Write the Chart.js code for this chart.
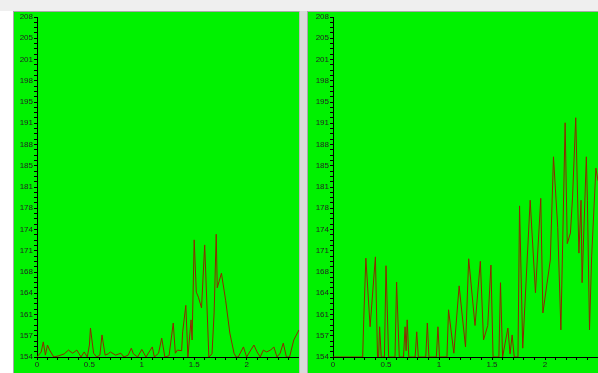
<!DOCTYPE html>
<html>
<head>
<meta charset="utf-8">
<script src="https://cdn.jsdelivr.net/npm/chart.js@4.4.1/dist/chart.umd.min.js"></script>
<style>
    body {margin: 0; width: 598px; height: 373px; background: #fff; overflow: hidden; position: relative;}
    #topbar {position: absolute; left: 0; top: 0; width: 598px; height: 11px; background: #efefef;}
    .panel {position: absolute; top: 11px; height: 361px; background: #00f200; border-top: 1px solid #a8a8a8; border-left: 1px solid #a8a8a8;}
    #leftPanel {left: 13px; width: 286px;}
    #rightPanel {left: 307px; width: 291px;}
    #gap {position: absolute; left: 299px; top: 11px; width: 8px; height: 362px; background: #dadada; border-left: 1px solid #bcbcbc;}
    canvas {display: block;}
</style>
</head>
<body>
<div id="topbar"></div>
<div id="leftPanel" class="panel"><canvas id="leftChart" width="286" height="361"></canvas></div>
<div id="gap"></div>
<div id="rightPanel" class="panel"><canvas id="rightChart" width="291" height="361"></canvas></div>
<script>
/*---------------------------------------- data ---------------------------------------------*/
var yMin = 154, yMax = 208;
var yTickLabels = ['154', '157', '161', '164', '168', '171', '174', '178', '181', '185', '188', '191', '195', '198', '201', '205', '208'];
var xMin = 0, xMax = 2.5;
var xTickLabels = {'0': '0', '0.5': '0.5', '1': '1', '1.5': '1.5', '2': '2'};

// left panel
var leftX = [0, 0.04, 0.06, 0.08, 0.1, 0.12, 0.16, 0.21, 0.26, 0.3, 0.34, 0.38, 0.42, 0.45, 0.48, 0.5,
    0.51, 0.54, 0.57, 0.6, 0.62, 0.65, 0.68, 0.7, 0.75, 0.8, 0.83, 0.87, 0.9, 0.92, 0.96, 1.0,
    1.04, 1.1, 1.12, 1.16, 1.19, 1.22, 1.26, 1.3, 1.32, 1.34, 1.38, 1.39, 1.42, 1.44, 1.47, 1.48,
    1.5, 1.52, 1.54, 1.57, 1.6, 1.64, 1.67, 1.69, 1.71, 1.72, 1.76, 1.8, 1.84, 1.88, 1.9, 1.92,
    1.97, 2.0, 2.04, 2.07, 2.1, 2.13, 2.16, 2.19, 2.23, 2.26, 2.29, 2.32, 2.35, 2.38, 2.41, 2.45, 2.5];
var leftY = [154, 154.8, 156.4, 154.3, 155.9, 155.1, 154, 154.2, 154.5, 155.1, 154.6, 155.1, 154, 154.8, 154, 155.9,
    158.6, 154.6, 154, 154.3, 157.5, 154.3, 154.5, 154.8, 154.3, 154.6, 154, 154.3, 155.4, 154.5, 154, 155.2,
    154, 155.6, 154, 154.6, 157, 154, 154.2, 159.4, 154.6, 155.1, 155, 158, 162.2, 154, 159.9, 156.7,
    172.6, 164.3, 163.5, 161.8, 171.8, 154, 154.5, 161, 173.5, 165, 167.3, 163, 157.8, 154.6, 154, 154,
    155.6, 154, 155.1, 155.9, 154.8, 154, 155.1, 154.8, 155.1, 155.6, 154, 154.6, 156.2, 154, 154, 156.7, 158.3];

// right panel
var rightX = [0, 0.28, 0.29, 0.31, 0.35, 0.4, 0.42, 0.43, 0.44, 0.455, 0.485, 0.5, 0.525, 0.585, 0.6, 0.625,
    0.665, 0.68, 0.69, 0.7, 0.715, 0.775, 0.79, 0.805, 0.875, 0.89, 0.905, 0.975, 0.99, 1.005, 1.075, 1.09,
    1.14, 1.19, 1.25, 1.28, 1.34, 1.39, 1.42, 1.46, 1.49, 1.51, 1.565, 1.58, 1.6, 1.65, 1.67, 1.69, 1.71, 1.745,
    1.76, 1.79, 1.86, 1.91, 1.96, 1.98, 2.05, 2.08, 2.12, 2.15, 2.19, 2.21, 2.24, 2.26, 2.29, 2.32, 2.34,
    2.35, 2.39, 2.4, 2.42, 2.44, 2.48, 2.5];
var rightY = [154, 154, 160, 169.7, 158.8, 169.9, 154, 154, 158.8, 154, 154, 168.5, 154, 154, 165.9, 154,
    154, 158.8, 155, 159.9, 154, 154, 158, 154, 154, 159.4, 154, 154, 158.8, 154, 154, 161.5,
    154.6, 165.3, 155.6, 169.6, 159, 169.2, 156.7, 159, 168.6, 154, 154, 165.8, 154, 158.6, 154.5, 157.5, 154, 154,
    178, 155.4, 178.9, 164.2, 179.2, 161, 169.4, 185.8, 174.6, 158.3, 191.2, 172, 173.7, 179.4, 192, 170.5, 178.9,
    165.8, 185.8, 178.9, 158.3, 169.9, 184, 182];

/*---------------------------------------- helpers ---------------------------------------------*/
function toPoints(xs, ys) {
    var pts = [];
    for (var i = 0; i < xs.length; i++) {
        pts.push({x: xs[i], y: ys[i]});
    }
    return pts;
}

// major ticks carry the labels, 3 minor ticks between them
function yTicks() {
    var list = [];
    var step = (yMax - yMin) / (yTickLabels.length - 1);
    for (var i = 0; i < yTickLabels.length; i++) {
        list.push({value: yMin + i * step, label: yTickLabels[i]});
        if (i < yTickLabels.length - 1) {
            for (var k = 1; k < 4; k++) {
                list.push({value: yMin + i * step + k * step / 4, label: ''});
            }
        }
    }
    return list;
}

function xTicks() {
    var list = [];
    for (var i = 0; i <= 25; i++) {
        var v = i / 10;
        list.push({value: v, label: xTickLabels[String(v)] || ''});
    }
    return list;
}

var tickFont = {family: "'Liberation Sans', Arial, sans-serif", size: 8, lineHeight: 1};

function makeChart(id, xs, ys, axisWidth) {
    var ctx = document.getElementById(id).getContext('2d');
    return new Chart(ctx, {
        type: 'line',
        data: {
            datasets: [{
                data: toPoints(xs, ys),
                borderColor: '#8c2a00',
                borderWidth: 1,
                pointRadius: 0,
                fill: false,
                tension: 0
            }]
        },
        options: {
            responsive: false,
            animation: false,
            events: [],
            layout: {padding: {top: 5, left: 0, right: 0, bottom: 0}},
            plugins: {legend: {display: false}, tooltip: {enabled: false}},
            scales: {
                x: {
                    type: 'linear',
                    min: xMin,
                    max: xMax,
                    afterBuildTicks: function (s) { s.ticks = xTicks().map(function (t) { return {value: t.value}; }); },
                    afterFit: function (s) { s.height = 16; },
                    ticks: {
                        autoSkip: false,
                        maxRotation: 0,
                        padding: 1,
                        color: '#222',
                        font: tickFont,
                        callback: function (v) { return xTickLabels[String(Math.round(v * 10) / 10)] || ''; }
                    },
                    grid: {drawOnChartArea: false, drawTicks: true, tickLength: 3, color: '#000'},
                    border: {display: true, color: '#000', dash: [1, 2], width: 1}
                },
                y: {
                    type: 'linear',
                    min: yMin,
                    max: yMax,
                    afterBuildTicks: function (s) { s.ticks = yTicks().map(function (t) { return {value: t.value}; }); },
                    afterFit: function (s) { s.width = axisWidth; },
                    ticks: {
                        autoSkip: false,
                        padding: 1,
                        color: '#222',
                        font: tickFont,
                        callback: function (v) {
                            var list = yTicks();
                            for (var i = 0; i < list.length; i++) {
                                if (Math.abs(list[i].value - v) < 1e-6) return list[i].label;
                            }
                            return '';
                        }
                    },
                    grid: {drawOnChartArea: false, drawTicks: true, tickLength: 3, color: '#000'},
                    border: {display: true, color: '#000', dash: [1, 2], width: 1}
                }
            }
        }
    });
}

/*---------------------------------------- draw ---------------------------------------------*/
makeChart('leftChart', leftX, leftY, 23);
makeChart('rightChart', rightX, rightY, 25);
</script>
</body>
</html>
